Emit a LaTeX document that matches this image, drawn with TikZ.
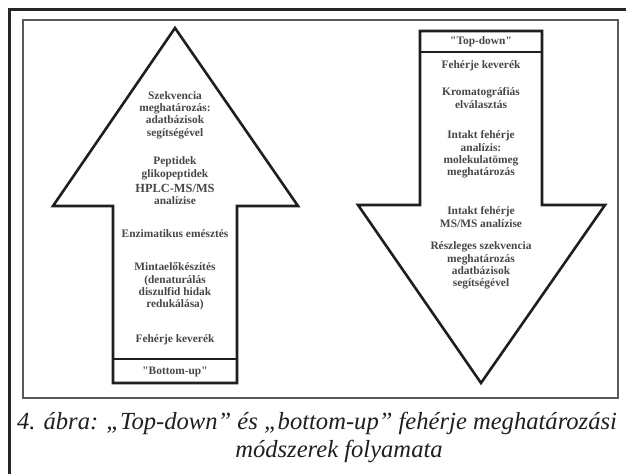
\documentclass[tikz,border=0pt]{standalone}
\usepackage{fontspec}
\newfontfamily\diagfont{Liberation Serif}
\newlength\capw
\begin{document}
\settowidth{\capw}{\diagfont\itshape\fontsize{10}{12}\selectfont 4. ábra: „Top-down” és „bottom-up” fehérje meghatározási}%
\pgfmathsetmacro\capsize{10*600/\capw}%
\begin{tikzpicture}[x=1pt,y=-1pt,
  arrowline/.style={line width=2.6pt, line join=miter, draw=black!88},
  lbl/.style={font=\diagfont\bfseries\fontsize{11.4}{12.4}\selectfont, text=black!72, align=center, inner sep=0pt},
  biglbl/.style={font=\diagfont\bfseries\fontsize{12.4}{13}\selectfont, text=black!72, inner sep=0pt},
  caption/.style={text=black!88, inner sep=0pt, font=\diagfont\itshape\fontsize{\capsize}{\capsize}\selectfont}]
\useasboundingbox (0,0) rectangle (626,474);
\fill[white] (0,0) rectangle (626,474);
% frames
\draw[line width=3pt, black!85] (9,474) -- (9,9) -- (626,9);
\draw[line width=1.3pt, black!65] (23,20) rectangle (618,398);
% up arrow (bottom-up)
\draw[arrowline] (175,28) -- (298,206) -- (237,206) -- (237,383) -- (113,383) -- (113,206) -- (53,206) -- cycle;
\draw[arrowline] (113,359) -- (237,359);
% down arrow (top-down)
\draw[arrowline] (420,31) -- (542,31) -- (542,205) -- (605,205) -- (481,383) -- (358,205) -- (420,205) -- cycle;
\draw[arrowline] (420,52) -- (542,52);
% left texts
\node[lbl] (l1) at (175,115) {Szekvencia\\meghatározás:\\adatbázisok\\segítségével};
\node[lbl] (l2a) at (175,162) {Peptidek};
\node[lbl] (l2b) at (175,175) {glikopeptidek};
\node[biglbl] (l2c) at (175,188) {HPLC-MS/MS};
\node[lbl] (l2d) at (175,201) {analízise};
\node[lbl] (l3) at (175,234) {Enzimatikus emésztés};
\node[lbl] (l4) at (175,286.5) {Mintaelőkészítés\\(denaturálás\\diszulfid hidak\\redukálása)};
\node[lbl] (l5) at (175,340) {Fehérje keverék};
\node[lbl] (l6) at (175,372) {"Bottom-up"};
% right texts
\node[lbl] (r0) at (481,42) {"Top-down"};
\node[lbl] (r1) at (481,66) {Fehérje keverék};
\node[lbl] (r2) at (481,98) {Kromatográfiás\\elválasztás};
\node[lbl] (r3) at (481,154.5) {Intakt fehérje\\analízis:\\molekulatömeg\\meghatározás};
\node[lbl] (r4) at (481,217) {Intakt fehérje\\MS/MS analízise};
\node[lbl] (r5) at (481,265.5) {Részleges szekvencia\\meghatározás\\adatbázisok\\segítségével};
% caption
\node[caption] (cap1) at (317,423) {4. ábra: „Top-down” és „bottom-up” fehérje meghatározási};
\node[caption] (cap2) at (339,451) {módszerek folyamata};
\end{tikzpicture}
\end{document}
